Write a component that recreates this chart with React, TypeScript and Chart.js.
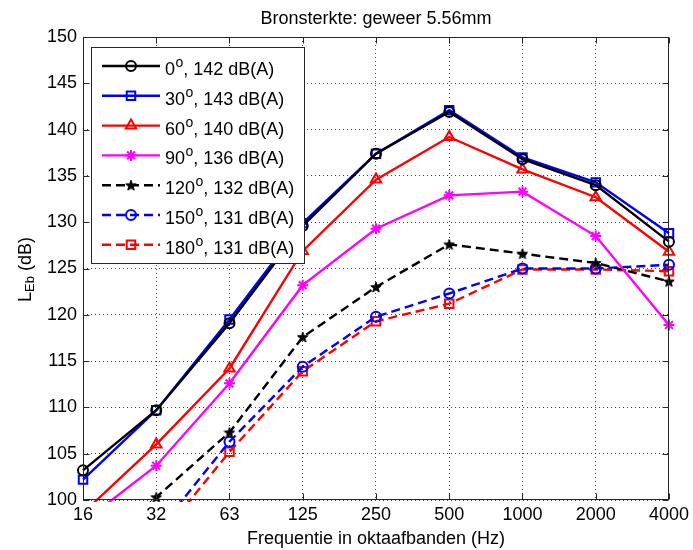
import React, { useEffect, useRef } from 'react';
import { Chart, registerables } from 'chart.js';
import { drawPoint } from 'chart.js/helpers';

Chart.register(...registerables);

// ---------- data ----------
const TITLE = 'Bronsterkte: geweer 5.56mm';
const X_TITLE = 'Frequentie in oktaafbanden (Hz)';
const Y_TITLE_MAIN = 'L';
const Y_TITLE_SUB = 'Eb';
const Y_TITLE_REST = ' (dB)';

const bands = ['16', '32', '63', '125', '250', '500', '1000', '2000', '4000'];
const angles = ['0', '30', '60', '90', '120', '150', '180'];
const totals = ['142', '143', '140', '136', '132', '131', '131'];

const Y_MIN = 100;
const Y_MAX = 150;
const Y_STEP = 5;

const s0 = [103.2, 109.7, 119.1, 129.6, 137.4, 141.9, 136.8, 134.0, 127.9];
const s30 = [102.2, 109.7, 119.5, 129.9, 137.4, 142.1, 137.0, 134.3, 128.8];
const s60 = [98.6, 106.0, 114.2, 126.9, 134.6, 139.2, 135.7, 132.7, 126.8];
const s90 = [97.6, 103.7, 112.6, 123.2, 129.3, 132.9, 133.3, 128.5, 118.9];
const s120 = [93.0, 100.3, 107.3, 117.6, 123.0, 127.6, 126.6, 125.6, 123.6];
const s150 = [86.0, 96.5, 106.3, 114.4, 119.8, 122.3, 125.0, 125.0, 125.4];
const s180 = [85.0, 95.5, 105.2, 113.9, 119.3, 121.2, 124.9, 124.9, 124.7];

const seriesValues = [s0, s30, s60, s90, s120, s150, s180];
const seriesColors = ['#000000', '#0000ff', '#ff0000', '#ff00ff', '#000000', '#0000ff', '#ff0000'];
const seriesDashed = [false, false, false, false, true, true, true];
const seriesMarkers = ['circle', 'rect', 'triangle', 'star', 'pentagram', 'circle', 'rect'];

const FONT = '"Liberation Sans", Arial, Helvetica, sans-serif';

function makePentagram(size: number, color: string): HTMLCanvasElement {
  const c = document.createElement('canvas');
  c.width = size;
  c.height = size;
  const g = c.getContext('2d')!;
  const cx = size / 2;
  const cy = size / 2 + 0.5;
  const R = size / 2 - 0.5;
  const r = R * 0.42;
  g.beginPath();
  for (let k = 0; k < 10; k++) {
    const ang = -Math.PI / 2 + (k * Math.PI) / 5;
    const rad = k % 2 ? r : R;
    g.lineTo(cx + rad * Math.cos(ang), cy + rad * Math.sin(ang));
  }
  g.closePath();
  g.fillStyle = color;
  g.fill();
  g.strokeStyle = color;
  g.lineWidth = 1;
  g.stroke();
  return c;
}

function markerRadius(m: string): number {
  switch (m) {
    case 'circle': return 5;
    case 'rect': return 6;
    case 'triangle': return 6;
    case 'star': return 5.5;
    default: return 6;
  }
}

const overlayPlugin = {
  id: 'matlabOverlay',
  afterDatasetsDraw(chart: any) {
    const { ctx, chartArea: a, scales } = chart;
    const L = Math.round(a.left) + 0.5;
    const R = Math.round(a.right) - 0.5;
    const T = Math.round(a.top) + 0.5;
    const B = Math.round(a.bottom) - 0.5;
    ctx.save();
    // box
    ctx.setLineDash([]);
    ctx.strokeStyle = '#262626';
    ctx.lineWidth = 1;
    ctx.strokeRect(L, T, R - L, B - T);
    // inward ticks
    const tl = 6;
    ctx.beginPath();
    scales.x.ticks.forEach((_t: any, i: number) => {
      const px = Math.round(scales.x.getPixelForTick(i)) + 0.5;
      ctx.moveTo(px, B);
      ctx.lineTo(px, B - tl);
      ctx.moveTo(px, T);
      ctx.lineTo(px, T + tl);
    });
    scales.y.ticks.forEach((t: any) => {
      const py = Math.round(scales.y.getPixelForValue(t.value)) + 0.5;
      ctx.moveTo(L, py);
      ctx.lineTo(L + tl, py);
      ctx.moveTo(R, py);
      ctx.lineTo(R - tl, py);
    });
    ctx.stroke();

    // title
    ctx.fillStyle = '#000';
    ctx.font = `18px ${FONT}`;
    ctx.textAlign = 'center';
    ctx.textBaseline = 'alphabetic';
    ctx.fillText(TITLE, (a.left + a.right) / 2, 24);
    // x title
    ctx.fillText(X_TITLE, (a.left + a.right) / 2, 544);
    // y title (rotated)
    ctx.save();
    ctx.translate(31, (a.top + a.bottom) / 2 + 1);
    ctx.rotate(-Math.PI / 2);
    ctx.textAlign = 'left';
    const fMain = `18px ${FONT}`;
    const fSub = `13px ${FONT}`;
    ctx.font = fMain;
    const w1 = ctx.measureText(Y_TITLE_MAIN).width;
    const w3 = ctx.measureText(Y_TITLE_REST).width;
    ctx.font = fSub;
    const w2 = ctx.measureText(Y_TITLE_SUB).width;
    let x0 = -(w1 + w2 + w3) / 2;
    ctx.font = fMain;
    ctx.fillText(Y_TITLE_MAIN, x0, 0);
    x0 += w1;
    ctx.font = fSub;
    ctx.fillText(Y_TITLE_SUB, x0, 3);
    x0 += w2;
    ctx.font = fMain;
    ctx.fillText(Y_TITLE_REST, x0, 0);
    ctx.restore();

    // legend
    const lx = 91.5, ly = 47.5, lw = 213, lh = 216;
    ctx.fillStyle = '#ffffff';
    ctx.fillRect(lx, ly, lw, lh);
    ctx.strokeStyle = '#262626';
    ctx.lineWidth = 1;
    ctx.strokeRect(lx, ly, lw, lh);
    chart.data.datasets.forEach((ds: any, i: number) => {
      const y = 66 + i * 29.8;
      ctx.save();
      ctx.strokeStyle = ds.borderColor;
      ctx.lineWidth = ds.borderWidth;
      ctx.setLineDash(ds.borderDash || []);
      ctx.beginPath();
      ctx.moveTo(102, y);
      ctx.lineTo(160, y);
      ctx.stroke();
      ctx.setLineDash([]);
      ctx.strokeStyle = ds.borderColor;
      ctx.fillStyle = 'rgba(0,0,0,0)';
      ctx.lineWidth = ds.pointBorderWidth;
      drawPoint(ctx, {
        pointStyle: ds.pointStyle,
        rotation: 0,
        radius: ds.pointRadius,
        borderWidth: ds.pointBorderWidth,
      } as any, 131, y);
      ctx.restore();
      // text
      ctx.fillStyle = '#000';
      ctx.textAlign = 'left';
      ctx.textBaseline = 'alphabetic';
      let tx = 165;
      const base = y + 9;
      ctx.font = fMain;
      ctx.fillText(angles[i], tx, base);
      tx += ctx.measureText(angles[i]).width + 0.5;
      ctx.font = `14px ${FONT}`;
      ctx.fillText('o', tx, base - 8);
      tx += ctx.measureText('o').width;
      ctx.font = fMain;
      ctx.fillText(`, ${totals[i]} dB(A)`, tx, base);
    });
    ctx.restore();
  },
};

export default function App() {
  const ref = useRef<HTMLCanvasElement>(null);
  useEffect(() => {
    const pent = makePentagram(12, '#000000');
    const datasets = seriesValues.map((vals, i) => {
      const m = seriesMarkers[i];
      return {
        label: `${angles[i]}, ${totals[i]} dB(A)`,
        data: vals,
        borderColor: seriesColors[i],
        backgroundColor: 'rgba(0,0,0,0)',
        borderWidth: 2.4,
        borderDash: seriesDashed[i] ? [9, 5] : [],
        pointStyle: m === 'pentagram' ? pent : m,
        pointRadius: markerRadius(m),
        pointBorderWidth: 2,
        pointBorderColor: seriesColors[i],
        pointBackgroundColor: 'rgba(0,0,0,0)',
        tension: 0,
        fill: false,
        clip: { left: 8, right: 8, top: 2, bottom: 2 },
      };
    });
    const chart = new Chart(ref.current!, {
      type: 'line',
      data: { labels: bands, datasets: datasets as any },
      options: {
        responsive: false,
        animation: false,
        devicePixelRatio: 1,
        layout: { padding: { left: 0, right: 22, top: 37, bottom: 0 } },
        plugins: {
          legend: { display: false },
          title: { display: false },
          tooltip: { enabled: false },
        },
        scales: {
          x: {
            type: 'category',
            offset: false,
            grid: { color: 'rgba(0,0,0,0.75)', lineWidth: 1, drawTicks: false },
            border: { display: false, dash: [1, 3] },
            ticks: {
              autoSkip: false,
              maxRotation: 0,
              minRotation: 0,
              padding: 4,
              color: '#000',
              font: { family: FONT, size: 18 },
            },
            afterFit: (s: any) => { s.height = 50; },
          },
          y: {
            min: Y_MIN,
            max: Y_MAX,
            grid: { color: 'rgba(0,0,0,0.75)', lineWidth: 1, drawTicks: false },
            border: { display: false, dash: [1, 3] },
            ticks: {
              stepSize: Y_STEP,
              padding: 6,
              color: '#000',
              font: { family: FONT, size: 18 },
            },
            afterFit: (s: any) => { s.width = 83; },
          },
        },
      },
      plugins: [overlayPlugin],
    });
    return () => chart.destroy();
  }, []);
  return (
    <div style={{ position: 'absolute', left: 0, top: 0, width: 693, height: 550, background: '#fff' }}>
      <canvas ref={ref} width={693} height={550} style={{ display: 'block', width: 693, height: 550 }} />
    </div>
  );
}
